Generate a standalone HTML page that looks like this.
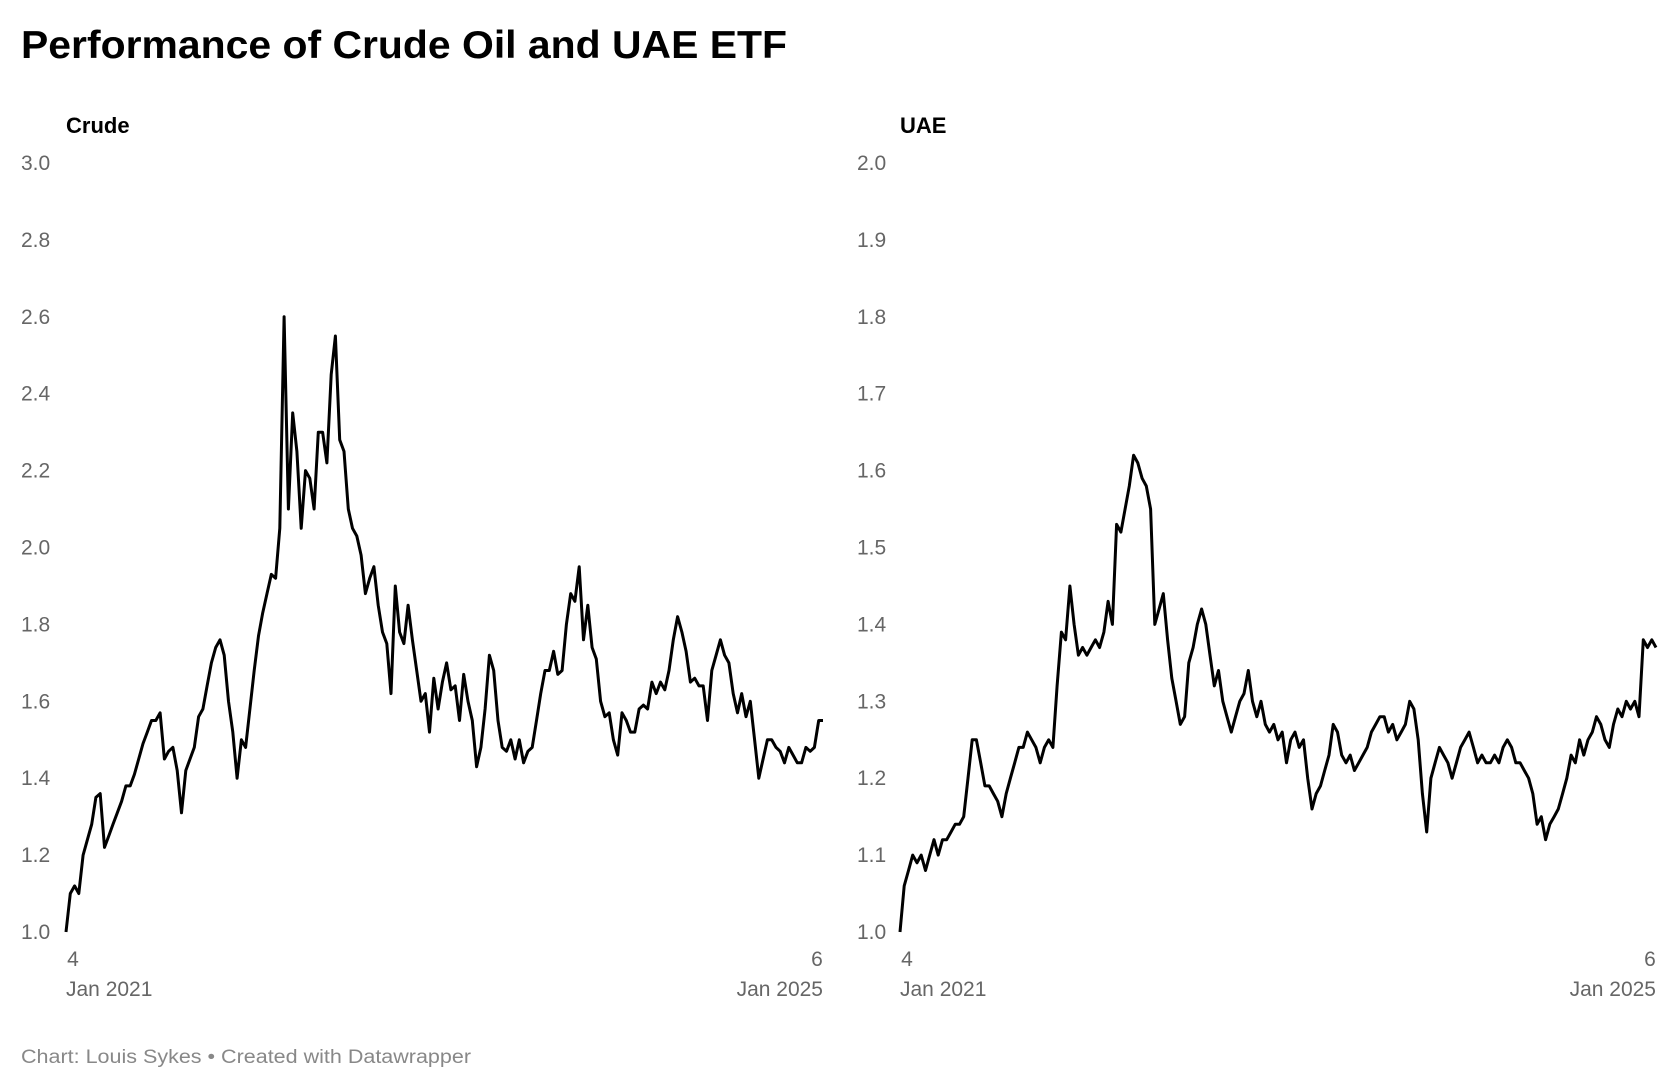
<!DOCTYPE html>
<html><head><meta charset="utf-8"><style>
html,body{margin:0;padding:0;background:#fff;}
svg{display:block;font-family:"Liberation Sans",sans-serif;}
</style></head><body>
<svg id="chart" width="1680" height="1090" viewBox="0 0 1680 1090" xmlns="http://www.w3.org/2000/svg">
<text x="21" y="58" font-size="39" font-weight="bold" fill="#000" textLength="766" lengthAdjust="spacingAndGlyphs">Performance of Crude Oil and UAE ETF</text>
<text x="66" y="133" font-size="22" font-weight="bold" fill="#000">Crude</text>
<text x="900" y="133" font-size="22" font-weight="bold" fill="#000">UAE</text>
<g id="crude"></g>
<g id="uae"></g>
<text x="21" y="1063" font-size="19" fill="#888" textLength="450" lengthAdjust="spacingAndGlyphs">Chart: Louis Sykes • Created with Datawrapper</text>
</svg>
<script>
const crudeValues=[1.00,1.10,1.12,1.10,1.20,1.24,1.28,1.35,1.36,1.22,1.25,1.28,1.31,1.34,1.38,1.38,1.41,1.45,1.49,1.52,1.55,1.55,1.57,1.45,1.47,1.48,1.42,1.31,1.42,1.45,1.48,1.56,1.58,1.64,1.70,1.74,1.76,1.72,1.60,1.52,1.40,1.50,1.48,1.58,1.68,1.77,1.83,1.88,1.93,1.92,2.05,2.60,2.10,2.35,2.25,2.05,2.20,2.18,2.10,2.30,2.30,2.22,2.45,2.55,2.28,2.25,2.10,2.05,2.03,1.98,1.88,1.92,1.95,1.85,1.78,1.75,1.62,1.90,1.78,1.75,1.85,1.76,1.68,1.60,1.62,1.52,1.66,1.58,1.65,1.70,1.63,1.64,1.55,1.67,1.60,1.55,1.43,1.48,1.58,1.72,1.68,1.55,1.48,1.47,1.50,1.45,1.50,1.44,1.47,1.48,1.55,1.62,1.68,1.68,1.73,1.67,1.68,1.80,1.88,1.86,1.95,1.76,1.85,1.74,1.71,1.60,1.56,1.57,1.50,1.46,1.57,1.55,1.52,1.52,1.58,1.59,1.58,1.65,1.62,1.65,1.63,1.68,1.76,1.82,1.78,1.73,1.65,1.66,1.64,1.64,1.55,1.68,1.72,1.76,1.72,1.70,1.62,1.57,1.62,1.56,1.60,1.50,1.40,1.45,1.50,1.50,1.48,1.47,1.44,1.48,1.46,1.44,1.44,1.48,1.47,1.48,1.55,1.55];
const uaeValues=[1.00,1.06,1.08,1.10,1.09,1.10,1.08,1.10,1.12,1.10,1.12,1.12,1.13,1.14,1.14,1.15,1.20,1.25,1.25,1.22,1.19,1.19,1.18,1.17,1.15,1.18,1.20,1.22,1.24,1.24,1.26,1.25,1.24,1.22,1.24,1.25,1.24,1.32,1.39,1.38,1.45,1.40,1.36,1.37,1.36,1.37,1.38,1.37,1.39,1.43,1.40,1.53,1.52,1.55,1.58,1.62,1.61,1.59,1.58,1.55,1.40,1.42,1.44,1.38,1.33,1.30,1.27,1.28,1.35,1.37,1.40,1.42,1.40,1.36,1.32,1.34,1.30,1.28,1.26,1.28,1.30,1.31,1.34,1.30,1.28,1.30,1.27,1.26,1.27,1.25,1.26,1.22,1.25,1.26,1.24,1.25,1.20,1.16,1.18,1.19,1.21,1.23,1.27,1.26,1.23,1.22,1.23,1.21,1.22,1.23,1.24,1.26,1.27,1.28,1.28,1.26,1.27,1.25,1.26,1.27,1.30,1.29,1.25,1.18,1.13,1.20,1.22,1.24,1.23,1.22,1.20,1.22,1.24,1.25,1.26,1.24,1.22,1.23,1.22,1.22,1.23,1.22,1.24,1.25,1.24,1.22,1.22,1.21,1.20,1.18,1.14,1.15,1.12,1.14,1.15,1.16,1.18,1.20,1.23,1.22,1.25,1.23,1.25,1.26,1.28,1.27,1.25,1.24,1.27,1.29,1.28,1.30,1.29,1.30,1.28,1.38,1.37,1.38,1.37];
const crudeTicks=["1.0","1.2","1.4","1.6","1.8","2.0","2.2","2.4","2.6","2.8","3.0"];
const uaeTicks=["1.0","1.1","1.2","1.3","1.4","1.5","1.6","1.7","1.8","1.9","2.0"];
const xStartLabels=["4","Jan 2021"];
const xEndLabels=["6","Jan 2025"];
const NS="http://www.w3.org/2000/svg";
function drawPanel(g,values,ticks,yMin,yMax,x0,x1,labelX,prefix){
  const yB=932,yT=163;
  const ys=v=>yB-(v-yMin)/(yMax-yMin)*(yB-yT);
  const xs=i=>x0+i/(values.length-1)*(x1-x0);
  ticks.forEach(t=>{
    const tx=document.createElementNS(NS,'text');
    
    
    tx.setAttribute('x',labelX);tx.setAttribute('y',ys(parseFloat(t))+7);
    tx.setAttribute('font-size','21');tx.setAttribute('fill','#666');
    tx.textContent=t;g.appendChild(tx);
  });
  [[xStartLabels,x0,'start'],[xEndLabels,x1,'end']].forEach(([labs,x,anc])=>{
    labs.forEach((l,j)=>{
      const tx=document.createElementNS(NS,'text');
      
      
      const isNum=j===0;
      tx.setAttribute('x',isNum?(anc==='start'?x+7:x-6):x);
      tx.setAttribute('y',j===0?966:996);
      tx.setAttribute('text-anchor',isNum?'middle':anc);
      tx.setAttribute('font-size','21');tx.setAttribute('fill','#666');
      tx.textContent=l;g.appendChild(tx);
    });
  });
  const p=document.createElementNS(NS,'path');
  
  
  p.setAttribute('d',values.map((v,i)=>(i?'L':'M')+xs(i).toFixed(1)+','+ys(v).toFixed(1)).join(''));
  p.setAttribute('fill','none');p.setAttribute('stroke','#000');
  p.setAttribute('stroke-width','3');p.setAttribute('stroke-linejoin','round');
  g.appendChild(p);
}
drawPanel(document.getElementById('crude'),crudeValues,crudeTicks,1,3,66,823,21,'crude');
drawPanel(document.getElementById('uae'),uaeValues,uaeTicks,1,2,900,1656,857,'uae');
</script>
</body></html>
